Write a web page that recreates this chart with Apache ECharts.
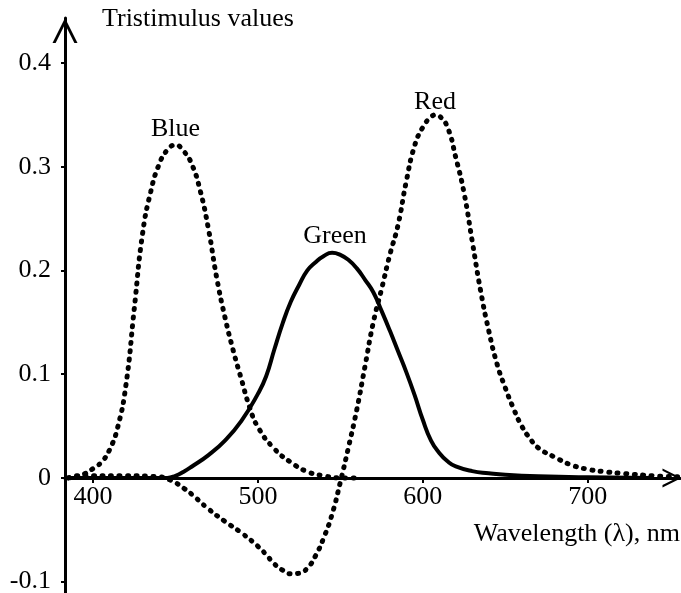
<!DOCTYPE html>
<html>
<head>
<meta charset="utf-8">
<script src="https://cdn.jsdelivr.net/npm/echarts@6/dist/echarts.min.js"></script>
<style>
	html,body{margin:0;padding:0;background:#fff;}
	#main{width:681px;height:593px;}
</style>
</head>
<body>
<div id="main"></div>
<script>
//曲线数据 (波长 nm / 三刺激值)
var blueWl=[385,390,395,400,405,410,415,420,425,430,435,440,445,450,455,460,465,470,475,480,485,490,495,500,510,520,530,540,550,560];
var blueVal=[0,0.001,0.004,0.009,0.015,0.027,0.049,0.090,0.163,0.235,0.276,0.302,0.316,0.321,0.315,0.302,0.277,0.240,0.193,0.155,0.123,0.095,0.068,0.049,0.028,0.015,0.006,0.002,0,0];

var greenWl=[385,400,420,440,445,450,455,460,470,480,490,500,505,510,515,520,525,530,535,540,545,550,555,560,565,570,575,580,585,590,595,600,605,610,615,620,630,640,650,670,700,740];
var greenVal=[0,0,0,0,0,0.002,0.006,0.011,0.022,0.036,0.055,0.081,0.098,0.124,0.149,0.170,0.186,0.200,0.208,0.214,0.217,0.215,0.210,0.202,0.191,0.179,0.161,0.142,0.122,0.102,0.080,0.056,0.036,0.024,0.016,0.011,0.0065,0.0045,0.003,0.0015,0.0005,0];

var redWl=[385,390,400,420,440,445,450,455,460,470,480,490,500,505,510,515,520,525,530,535,540,545,550,555,560,565,570,575,580,585,590,595,600,605,608,610,615,620,625,630,635,640,645,650,655,660,665,670,680,690,700,710,720,740,756];
var redVal=[0,0.002,0.002,0.002,0.001,-0.001,-0.0045,-0.010,-0.016,-0.030,-0.042,-0.053,-0.066,-0.074,-0.083,-0.089,-0.0925,-0.092,-0.087,-0.075,-0.0575,-0.035,-0.004,0.030,0.066,0.108,0.150,0.182,0.215,0.244,0.286,0.320,0.338,0.348,0.350,0.349,0.338,0.309,0.275,0.228,0.181,0.142,0.110,0.087,0.067,0.050,0.038,0.029,0.020,0.0125,0.0083,0.006,0.0045,0.002,0.001];

//坐标轴刻度
var xTicks=[400,500,600,700];
var yTicks=[-0.1,0,0.1,0.2,0.3,0.4];
var xRange=[383,756];
var yRange=[-0.111,0.4434];

var serif="'Liberation Serif','Times New Roman',serif";
var chevron='path://M0,20 L10,0 L20,20 L17.5,20 L10,5 L2.5,20 Z';
var gridTop=18,gridHeight=575;
//x轴放在 y=0 处
var xAxisOffset=-(0-yRange[0])/(yRange[1]-yRange[0])*gridHeight;

function pairs(xs,ys){
	var out=[];
	for(var i=0;i<xs.length;i++){
		out.push([xs[i],ys[i]]);
	}
	return out;
}

//曲线顶点处的名称
function peakLabel(text,dx,dy){
	return {
		symbol:'circle',
		symbolSize:1,
		itemStyle:{color:'rgba(0,0,0,0)'},
		label:{
			show:true,
			position:'inside',
			formatter:text,
			offset:[dx,dy],
			color:'#000',
			fontSize:26,
			fontFamily:serif
		},
		data:[{type:'max'}]
	};
}

var myChart=echarts.init(document.getElementById('main'));
var option={
	animation:false,
	backgroundColor:'#fff',
	grid:{
		left:65,
		top:gridTop,
		width:615,
		height:gridHeight,
		outerBoundsMode:'none',
		containLabel:false
	},
	xAxis:{
		type:'value',
		position:'bottom',
		offset:xAxisOffset,
		min:xRange[0],
		max:xRange[1],
		splitLine:{show:false},
		axisLine:{
			onZero:false,
			symbol:['none',chevron],
			symbolSize:[27,19],
			symbolOffset:[0,-8],
			lineStyle:{color:'#000',width:3}
		},
		axisTick:{
			show:true,
			customValues:xTicks,
			length:5,
			lineStyle:{color:'#000',width:2}
		},
		axisLabel:{
			customValues:xTicks,
			margin:6,
			color:'#000',
			fontSize:26,
			fontFamily:serif
		}
	},
	yAxis:{
		type:'value',
		min:yRange[0],
		max:yRange[1],
		splitLine:{show:false},
		axisLine:{
			onZero:false,
			symbol:['none',chevron],
			symbolSize:[25,25],
			symbolOffset:[0,-12.5],
			lineStyle:{color:'#000',width:3}
		},
		axisTick:{
			show:true,
			customValues:yTicks,
			length:4,
			lineStyle:{color:'#000',width:2}
		},
		axisLabel:{
			customValues:yTicks,
			margin:14,
			color:'#000',
			fontSize:26,
			fontFamily:serif
		}
	},
	graphic:[
		{
			type:'text',
			left:102,
			top:6,
			style:{text:'Tristimulus values',fill:'#000',font:'26px '+serif}
		},
		{
			type:'text',
			right:1,
			top:521,
			style:{text:'Wavelength (λ), nm',fill:'#000',font:'26px '+serif}
		}
	],
	series:[
		{
			name:'Blue',
			type:'line',
			smooth:0.5,
			showSymbol:false,
			symbol:'none',
			lineStyle:{color:'#000',width:5,type:[1,7.5],cap:'round'},
			markPoint:peakLabel('Blue',0,-16),
			data:pairs(blueWl,blueVal)
		},
		{
			name:'Green',
			type:'line',
			smooth:0.5,
			showSymbol:false,
			symbol:'none',
			lineStyle:{color:'#000',width:4},
			markPoint:peakLabel('Green',3,-17),
			data:pairs(greenWl,greenVal)
		},
		{
			name:'Red',
			type:'line',
			smooth:0.5,
			showSymbol:false,
			symbol:'none',
			lineStyle:{color:'#000',width:5,type:[1,7.5],cap:'round'},
			markPoint:peakLabel('Red',-1,-13),
			data:pairs(redWl,redVal)
		}
	]
};
myChart.setOption(option);
</script>
</body>
</html>
